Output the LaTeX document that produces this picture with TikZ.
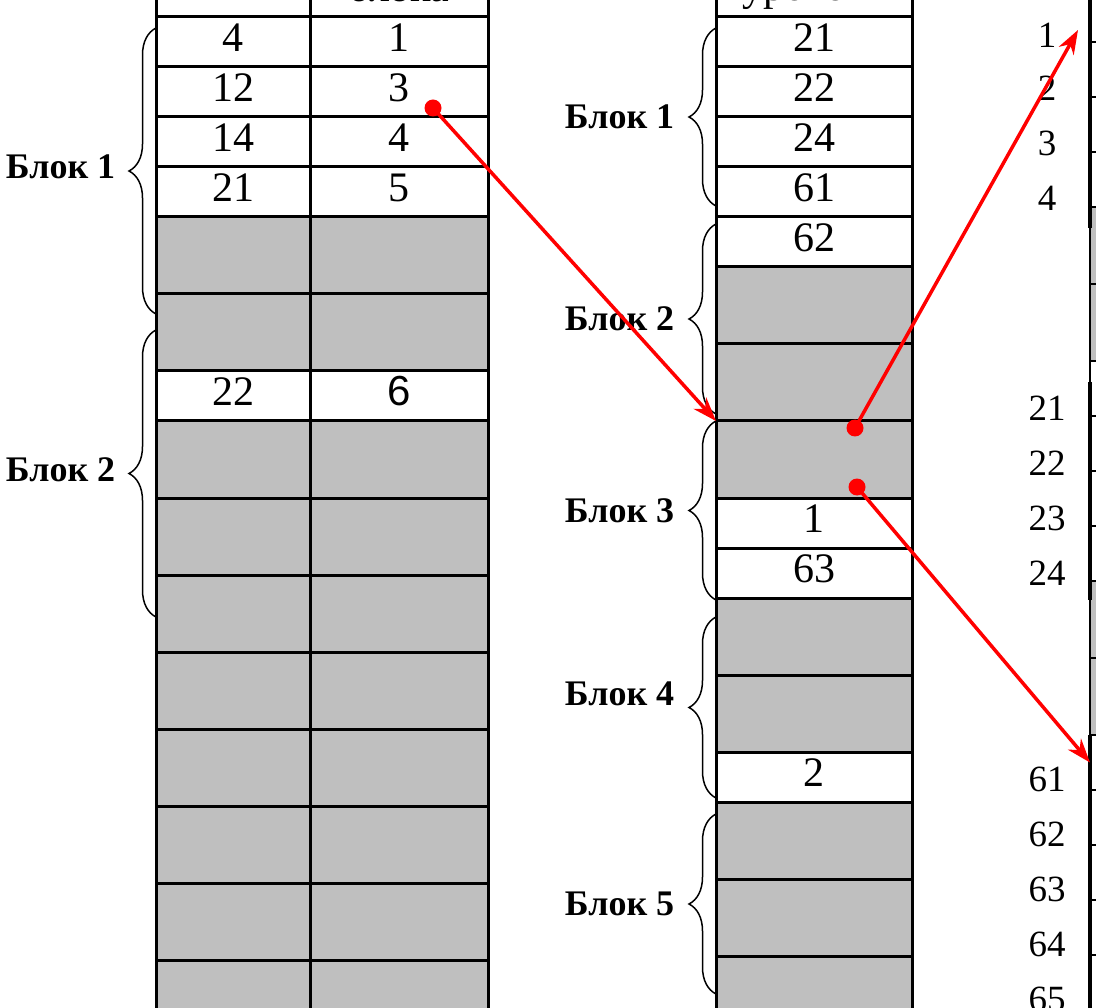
\documentclass[tikz,border=0pt]{standalone}
\usepackage{fontspec}
\setmainfont{Liberation Serif}
\newfontfamily\sansdig{Liberation Sans}
\usetikzlibrary{positioning,arrows.meta,decorations.pathreplacing}

\begin{document}
\begin{tikzpicture}[x=1pt,y=-1pt]
    \tikzstyle{wcell} = [rectangle, draw, line width=3pt, outer sep=0pt, inner sep=0pt, minimum width=154pt, minimum height=50pt, text height=29pt, text depth=10pt, font=\fontsize{42}{42}\selectfont]
    \tikzstyle{gcell} = [wcell, fill=gray!50, minimum height=77pt]
    \tikzstyle{wide} = [minimum width=178pt]
    \tikzstyle{mid} = [minimum width=196pt]
    \tikzstyle{rcell} = [rectangle, draw, line width=1.5pt, outer sep=0pt, minimum width=100pt, minimum height=55pt]
    \tikzstyle{rgcell} = [rcell, fill=gray!50, minimum height=77pt]
    \tikzstyle{num} = [inner sep=0pt, font=\fontsize{37}{37}\selectfont]
    \tikzstyle{head} = [anchor=base, inner sep=0pt, font=\fontsize{42}{42}\selectfont]
    \tikzstyle{brc} = [decorate, decoration={brace, amplitude=27pt}, line width=1.5pt]
    \tikzstyle{blk} = [inner sep=0pt, font=\bfseries\fontsize{36}{36}\selectfont]
    \tikzstyle{dot} = [circle, fill=red, inner sep=0pt, minimum size=17pt]
    \tikzstyle{ptr} = [red, line width=3.5pt, -{Stealth[length=24pt, width=17pt]}]

    \useasboundingbox (0,0) rectangle (1096,1008);
    \clip (0,0) rectangle (1096,1008);

    % left table
    \node[wcell] (a0) at (233,-8) {};
    \node[wcell, wide, right=0pt of a0] (b0) {};
    \node[head] (hb) at (399,2) {блока};
    \node[wcell, below=0pt of a0] (a1) {4};
    \node[wcell, wide, right=0pt of a1] (b1) {1};
    \node[wcell, below=0pt of a1] (a2) {12};
    \node[wcell, wide, right=0pt of a2] (b2) {3};
    \node[wcell, below=0pt of a2] (a3) {14};
    \node[wcell, wide, right=0pt of a3] (b3) {4};
    \node[wcell, below=0pt of a3] (a4) {21};
    \node[wcell, wide, right=0pt of a4] (b4) {5};
    \node[gcell, below=0pt of a4] (a5) {};
    \node[gcell, wide, right=0pt of a5] (b5) {};
    \node[gcell, below=0pt of a5] (a6) {};
    \node[gcell, wide, right=0pt of a6] (b6) {};
    \node[wcell, below=0pt of a6] (a7) {22};
    \node[wcell, wide, right=0pt of a7] (b7) {\sansdig 6};
    \foreach \i [evaluate=\i as \j using int(\i-1)] in {8,...,15} {
        \node[gcell, below=0pt of a\j] (a\i) {};
        \node[gcell, wide, right=0pt of a\i] (b\i) {};
    }

    \draw[brc] (156,314) -- (156,28) node[blk, midway, left=40pt, yshift=4pt] (lb1) {Блок 1};
    \draw[brc] (156,617) -- (156,330) node[blk, midway, left=40pt, yshift=4pt] (lb2) {Блок 2};

    % middle table
    \node[wcell, mid] (m0) at (814,-8) {};
    \node[head] (hm) at (814,1) {уровень};
    \node[wcell, mid, below=0pt of m0] (m1) {21};
    \node[wcell, mid, below=0pt of m1] (m2) {22};
    \node[wcell, mid, below=0pt of m2] (m3) {24};
    \node[wcell, mid, below=0pt of m3] (m4) {61};
    \node[wcell, mid, below=0pt of m4] (m5) {62};
    \node[gcell, mid, below=0pt of m5] (m6) {};
    \node[gcell, mid, below=0pt of m6] (m7) {};
    \node[gcell, mid, below=0pt of m7] (m8) {};
    \node[wcell, mid, below=0pt of m8] (m9) {1};
    \node[wcell, mid, below=0pt of m9] (m10) {63};
    \node[gcell, mid, below=0pt of m10] (m11) {};
    \node[gcell, mid, below=0pt of m11] (m12) {};
    \node[wcell, mid, below=0pt of m12] (m13) {2};
    \node[gcell, mid, below=0pt of m13] (m14) {};
    \node[gcell, mid, below=0pt of m14] (m15) {};
    \node[gcell, mid, below=0pt of m15] (m16) {};

    \draw[brc] (716,206) -- (716,28) node[blk, midway, left=41pt] (mb1) {Блок 1};
    \draw[brc] (716,414) -- (716,224) node[blk, midway, left=41pt] (mb2) {Блок 2};
    \draw[brc] (716,600) -- (716,421) node[blk, midway, left=41pt] (mb3) {Блок 3};
    \draw[brc] (716,798) -- (716,617) node[blk, midway, left=41pt, yshift=14pt] (mb4) {Блок 4};
    \draw[brc] (716,994) -- (716,814) node[blk, midway, left=41pt] (mb5) {Блок 5};

    % right table
    \node[rcell] (r1) at (1140,14.5) {};
    \node[rcell, below=0pt of r1] (r2) {};
    \node[rcell, below=0pt of r2] (r3) {};
    \node[rcell, below=0pt of r3] (r4) {};
    \node[rgcell, below=0pt of r4] (r5) {};
    \node[rgcell, below=0pt of r5] (r6) {};
    \node[rcell, below=0pt of r6] (r7) {};
    \node[rcell, below=0pt of r7] (r8) {};
    \node[rcell, below=0pt of r8] (r9) {};
    \node[rcell, below=0pt of r9] (r10) {};
    \node[rgcell, below=0pt of r10] (r11) {};
    \node[rgcell, below=0pt of r11] (r12) {};
    \node[rcell, below=0pt of r12] (r13) {};
    \node[rcell, below=0pt of r13] (r14) {};
    \node[rcell, below=0pt of r14] (r15) {};
    \node[rcell, below=0pt of r15] (r16) {};
    \node[rcell, below=0pt of r16] (r17) {};
    \draw[line width=3.5pt] (1090,0) -- (1090,228);
    \draw[line width=3.5pt] (1090,382) -- (1090,600);
    \draw[line width=3.5pt] (1090,735) -- (1090,1008);

    \node[num] (n1) at (1047,35) {1};
    \node[num] (n2) at (1047,88) {2};
    \node[num] (n3) at (1047,143) {3};
    \node[num] (n4) at (1047,198) {4};
    \node[num] (n21) at (1047,408) {21};
    \node[num] (n22) at (1047,463) {22};
    \node[num] (n23) at (1047,518) {23};
    \node[num] (n24) at (1047,573) {24};
    \node[num] (n61) at (1047,779) {61};
    \node[num] (n62) at (1047,834) {62};
    \node[num] (n63) at (1047,889) {63};
    \node[num] (n64) at (1047,944) {64};
    \node[num] (n65) at (1047,999) {65};

    % pointers
    \node[dot] (d1) at (433,108) {};
    \node[dot] (d2) at (855,428) {};
    \node[dot] (d3) at (857,487) {};
    \coordinate (t2) at (1078,30);
    \draw[ptr] (d1.center) -- (m8.north west);
    \draw[ptr] (d2.center) -- (t2);
    \draw[ptr] (d3.center) -- (r13.west);
\end{tikzpicture}
\end{document}
